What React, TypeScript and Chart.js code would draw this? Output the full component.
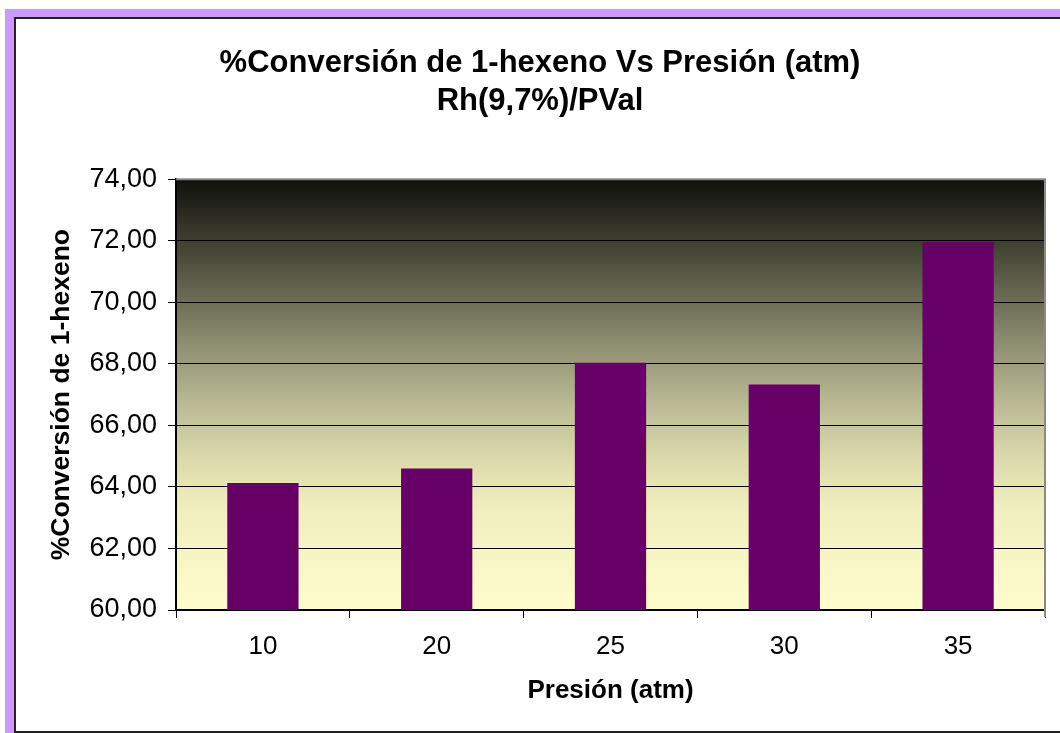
import React, { useEffect, useRef } from "react";
import { Chart, registerables } from "chart.js";

Chart.register(...registerables);

const categories = ["10", "20", "25", "30", "35"];
const conversion = [64.13, 64.6, 68.04, 67.33, 71.96];
const titleLines = ["%Conversión de 1-hexeno Vs Presión (atm)", "Rh(9,7%)/PVal"];
const yAxisTitle = "%Conversión de 1-hexeno";
const xAxisTitle = "Presión (atm)";
const yMin = 60;
const yMax = 74;
const yStep = 2;

const FONT = "'Liberation Sans', Arial, Helvetica, sans-serif";

const plotBackground = {
  id: "plotBackground",
  beforeDraw(chart: any) {
    const { ctx, chartArea } = chart;
    if (!chartArea) return;
    const { left, top, right, bottom } = chartArea;
    const g = ctx.createLinearGradient(0, top, 0, bottom);
    g.addColorStop(0, "rgb(16,16,13)");
    g.addColorStop(0.14, "rgb(62,62,48)");
    g.addColorStop(0.37, "rgb(138,138,110)");
    g.addColorStop(0.51, "rgb(183,182,146)");
    g.addColorStop(0.65, "rgb(220,218,172)");
    g.addColorStop(0.76, "rgb(240,238,190)");
    g.addColorStop(1, "rgb(255,252,205)");
    ctx.save();
    ctx.fillStyle = g;
    ctx.fillRect(left, top, right - left, bottom - top);
    ctx.restore();
  },
  afterDraw(chart: any) {
    const { ctx, chartArea } = chart;
    const { left, top, right, bottom } = chartArea;
    ctx.save();
    ctx.strokeStyle = "#8a8a8a";
    ctx.lineWidth = 2;
    ctx.beginPath();
    ctx.moveTo(left, top);
    ctx.lineTo(right, top);
    ctx.lineTo(right, bottom + 7);
    ctx.stroke();
    ctx.restore();
  },
};

export default function App() {
  const ref = useRef<HTMLCanvasElement | null>(null);

  useEffect(() => {
    if (!ref.current) return;
    const chart = new Chart(ref.current, {
      type: "bar",
      data: {
        labels: categories,
        datasets: [
          {
            label: yAxisTitle,
            data: conversion,
            backgroundColor: "#660066",
            borderWidth: 0,
            barPercentage: 0.41,
            categoryPercentage: 1,
          },
        ],
      },
      plugins: [plotBackground],
      options: {
        responsive: false,
        animation: false,
        layout: { padding: { left: 19, right: 15, top: 0, bottom: 0 } },
        plugins: {
          legend: { display: false },
          tooltip: { enabled: false },
          title: {
            display: true,
            text: titleLines,
            color: "#000",
            font: { family: FONT, size: 31, weight: "bold", lineHeight: 1.23 },
            padding: { top: 25, bottom: 59 },
          },
        },
        scales: {
          x: {
            afterFit(scale: any) {
              scale.height = 121;
            },
            grid: {
              offset: true,
              drawOnChartArea: false,
              drawTicks: true,
              tickLength: 8,
              color: "#000",
            },
            border: { display: true, color: "#000", width: 1.5 },
            ticks: {
              color: "#000",
              padding: 13,
              font: { family: FONT, size: 26 },
            },
            title: {
              display: true,
              text: xAxisTitle,
              color: "#000",
              font: { family: FONT, size: 26, weight: "bold" },
              padding: { top: 0, bottom: 25 },
            },
          },
          y: {
            min: yMin,
            max: yMax,
            afterFit(scale: any) {
              scale.width = 141;
            },
            grid: {
              color: "#000",
              lineWidth: 1,
              drawTicks: true,
              tickLength: 8,
            },
            border: { display: true, color: "#000", width: 2 },
            ticks: {
              stepSize: yStep,
              color: "#000",
              padding: 11,
              font: { family: FONT, size: 27 },
              callback: (v: any) => Number(v).toFixed(2).replace(".", ","),
            },
            title: {
              display: true,
              text: yAxisTitle,
              color: "#000",
              font: { family: FONT, size: 26.5, weight: "bold" },
              padding: { top: 11, bottom: 0 },
            },
          },
        },
      },
    });
    return () => chart.destroy();
  }, []);

  return (
    <div
      style={{
        position: "fixed",
        left: 0,
        top: 0,
        width: 1060,
        height: 733,
        overflow: "hidden",
        background: "#fff",
      }}
    >
      <div
        style={{
          position: "absolute",
          left: 5,
          top: 9,
          width: 1200,
          height: 900,
          background: "#cc99ff",
        }}
      />
      <div
        style={{
          position: "absolute",
          left: 14,
          top: 17,
          width: 1200,
          height: 716,
          boxSizing: "border-box",
          borderLeft: "2px solid #222",
          borderTop: "2px solid #222",
          borderBottom: "2px solid #222",
          background: "#fff",
        }}
      />
      <canvas
        ref={ref}
        width={1044}
        height={712}
        style={{ position: "absolute", left: 16, top: 19, width: 1044, height: 712 }}
      />
    </div>
  );
}
